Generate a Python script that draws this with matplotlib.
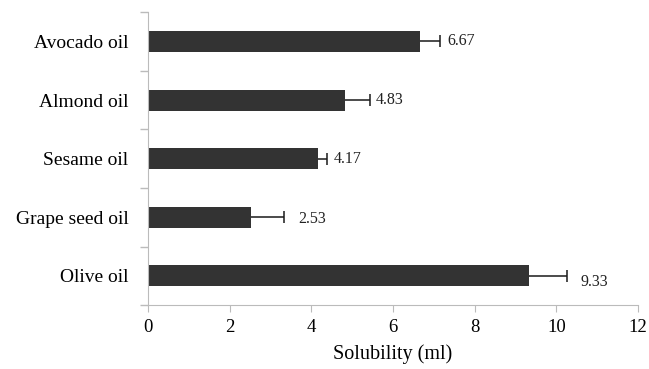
import matplotlib.pyplot as plt
import numpy as np

oils = ['Olive oil', 'Grape seed oil', 'Sesame oil', 'Almond oil', 'Avocado oil']
solubility = [9.33, 2.53, 4.17, 4.83, 6.67]
errors = [0.94, 0.80, 0.22, 0.61, 0.49]
labels = ['9.33', '2.53', '4.17', '4.83', '6.67']

plt.rcParams['font.family'] = ['Liberation Serif', 'DejaVu Serif']

fig = plt.figure(figsize=(6.49, 3.69), dpi=100)
ax = fig.add_axes([0.228, 0.173, 0.755, 0.794])

pos = np.arange(len(oils))
# error bars go under the bars, so only the upper half shows (as in Excel)
ax.errorbar(solubility, pos, xerr=errors, fmt='none', ecolor='#1a1a1a',
            elinewidth=1.1, capsize=4, capthick=1.1, zorder=1)
ax.barh(pos, solubility, height=0.36, color='#333333', zorder=2)

# value labels just right of the error bar
dy = [0.1, 0.03, 0.0, 0.0, 0.0]
dx = [0.32, 0.35, 0.15, 0.15, 0.18]
for i in range(len(oils)):
    ax.text(solubility[i] + errors[i] + dx[i], pos[i] - dy[i], labels[i],
            va='center', ha='left', fontsize=11.5, color='#222222')

ax.set_xlim(0, 12)
ax.set_ylim(-0.5, len(oils) - 0.5)
ax.set_xticks(np.arange(0, 13, 2))
ax.set_yticks(pos)
ax.set_yticklabels(oils, fontsize=14)
ax.set_yticks(np.arange(-0.5, len(oils), 1), minor=True)
ax.tick_params(axis='y', which='major', length=0, pad=14)
ax.tick_params(axis='y', which='minor', length=6, color='#bbbbbb', width=1)
ax.tick_params(axis='x', length=5, color='#bbbbbb', labelsize=13.5, pad=5)
ax.set_xlabel('Solubility (ml)', fontsize=14.5, labelpad=6)

for s in ['top', 'right']:
    ax.spines[s].set_visible(False)
for s in ['left', 'bottom']:
    ax.spines[s].set_color('#bbbbbb')

fig.savefig('out.png', dpi=100)
